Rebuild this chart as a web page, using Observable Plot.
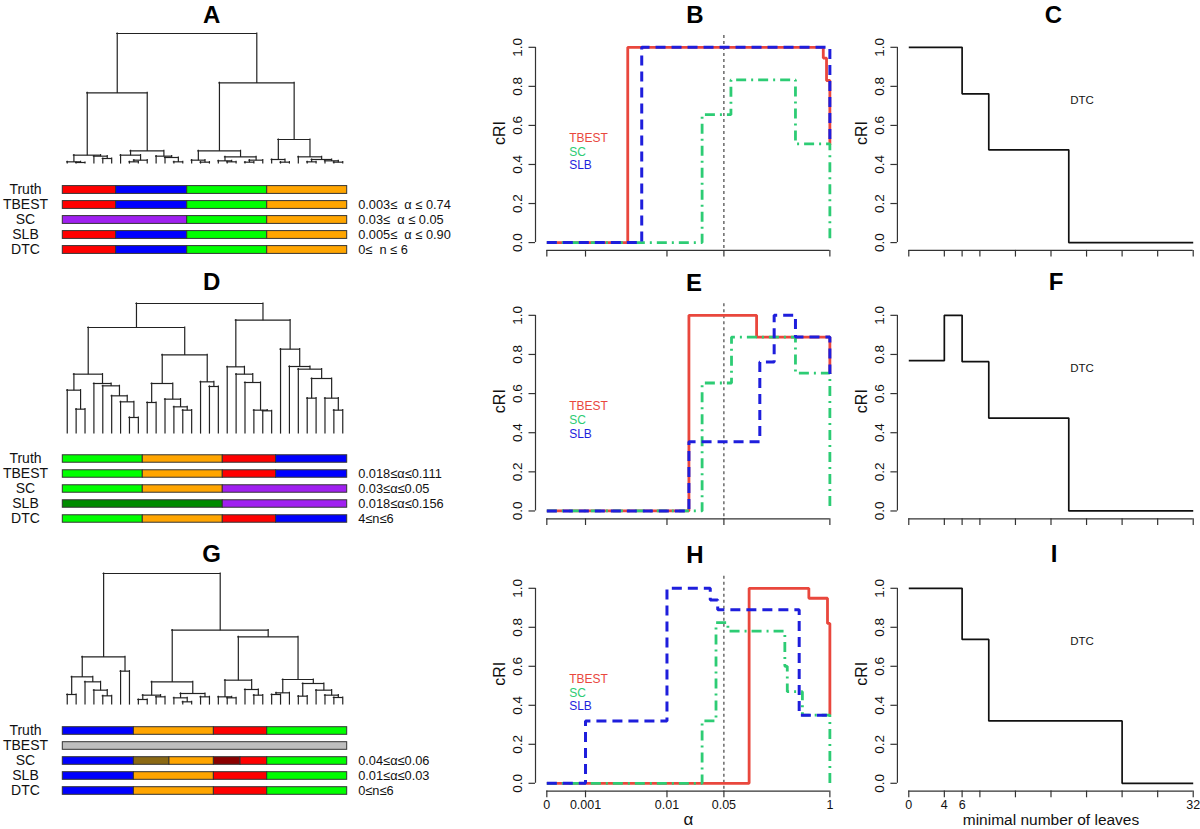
<!DOCTYPE html>
<html><head><meta charset="utf-8">
<script src="https://cdn.jsdelivr.net/npm/d3@7"></script>
<script src="https://cdn.jsdelivr.net/npm/@observablehq/plot@0.6"></script>
<style>
html,body{margin:0;padding:0;background:#fff;overflow:hidden;}
#fig{position:relative;width:1200px;height:829px;overflow:hidden;background:#fff;font-family:"Liberation Sans",Arial,Helvetica,sans-serif;}
</style></head><body><div id="fig"></div>
<script>
// ---------------- DATA ----------------
// dendrograms: internal node = [height, left, right]; leaf = 0
const treeA = [390,
  [212,
    [25, [5, 0, [3, 0, 0]], [22, 0, [15, 0, 0]]],
    [38, [25, 0, [10, [5, 0, 0], 0]], [22, 0, [18, 0, [5, 0, 0]]]]],
  [242,
    [38, [10, 0, [4, 0, 0]], [20, [8, 0, [5, 0, 0]], [10, [4, 0, 0], 0]]],
    [72, [12, 0, [4, 0, 0]], [20, 0, [12, [5, 0, 0], [8, 0, [4, 0, 0]]]]]]];
const treeD = [390,
  [318,
    [178, [130, 0, [73, 0, 0]], [150, 0, [143, 0, [113, 0, [95, 0, [48, 0, 0]]]]]],
    [236, [150, [93, 0, 0], [103, 0, [80, 0, [70, 0, 0]]]], [155, 0, [141, 0, 0]]]],
  [340,
    [200, 0, [178, 0, [153, 0, [70, 0, [68, 0, 0]]]]],
    [253, 0, [201, 0, [193, 0, [165, [106, 0, 0], [106, 0, [70, 0, 0]]]]]]]];
const treeG = [393,
  [143, [83, [30, 0, 0], [68, 0, [43, 0, [26, 0, 0]]]], [100, 0, 0]],
  [223,
    [68, [28, [15, 0, 0], [23, 0, 0]], [33, [20, 0, [8, 0, 0]], [23, 0, 0]]],
    [203,
      [73, [23, 0, [20, 0, 0]], [45, 0, [28, 0, 0]]],
      [75, [35, [30, 0, 0], 0], [63, [25, 0, 0], [43, 0, [28, 0, [21, 0, 0]]]]]]]];

const rowNames = ["Truth", "TBEST", "SC", "SLB", "DTC"];
const barColors = {red: "#FF0000", blue: "#0000FF", green: "#00FF00", orange: "#FFA500",
  purple: "#A020F0", darkgreen: "#008B00", gray: "#BEBEBE", olive: "#8B6914", darkred: "#8B0000"};
const partsA = [
  [["red", 6], ["blue", 8], ["green", 9], ["orange", 9]],
  [["red", 6], ["blue", 8], ["green", 9], ["orange", 9]],
  [["purple", 14], ["green", 9], ["orange", 9]],
  [["red", 6], ["blue", 8], ["green", 9], ["orange", 9]],
  [["red", 6], ["blue", 8], ["green", 9], ["orange", 9]]];
const rangesA = ["", "0.003\u2264  \u03B1 \u2264 0.74", "0.03\u2264  \u03B1 \u2264 0.05", "0.005\u2264  \u03B1 \u2264 0.90", "0\u2264  n \u2264 6"];
const partsD = [
  [["green", 9], ["orange", 9], ["red", 6], ["blue", 8]],
  [["green", 9], ["orange", 9], ["red", 6], ["blue", 8]],
  [["green", 9], ["orange", 9], ["purple", 14]],
  [["darkgreen", 18], ["purple", 14]],
  [["green", 9], ["orange", 9], ["red", 6], ["blue", 8]]];
const rangesD = ["", "0.018\u2264\u03B1\u22640.111", "0.03\u2264\u03B1\u22640.05", "0.018\u2264\u03B1\u22640.156", "4\u2264n\u22646"];
const partsG = [
  [["blue", 8], ["orange", 9], ["red", 6], ["green", 9]],
  [["gray", 32]],
  [["blue", 8], ["olive", 4], ["orange", 5], ["darkred", 3], ["red", 3], ["green", 9]],
  [["blue", 8], ["orange", 9], ["red", 6], ["green", 9]],
  [["blue", 8], ["orange", 9], ["red", 6], ["green", 9]]];
const rangesG = ["", "", "0.04\u2264\u03B1\u22640.06", "0.01\u2264\u03B1\u22640.03", "0\u2264n\u22646"];

// step curves: [alpha, cRI] (value holds from alpha onward)
const B_TBEST = [[0, 0], [0.0033, 1], [0.83, 0.945], [0.91, 0.83], [1, 0.83], [1, 0.5]];
const B_SC    = [[0, 0], [0.027, 0.655], [0.061, 0.833], [0.378, 0.505], [1, 0.505], [1, 0]];
const B_SLB   = [[0, 0], [0.0049, 1], [1, 1], [1, 0.5]];
const E_TBEST = [[0, 0], [0.0186, 1], [0.126, 0.889], [1, 0.889], [1, 0.70]];
const E_SC    = [[0, 0], [0.027, 0.654], [0.062, 0.889], [0.378, 0.705], [1, 0.705], [1, 0]];
const E_SLB   = [[0, 0], [0.0186, 0.354], [0.138, 0.761], [0.207, 1], [0.378, 0.889], [1, 0.889], [1, 0.70]];
const H_TBEST = [[0, 0], [0.102, 1], [0.552, 0.949], [0.935, 0.82], [1, 0.82], [1, 0.35]];
const H_SC    = [[0, 0], [0.027, 0.32], [0.040, 0.824], [0.056, 0.78], [0.28, 0.6], [0.30, 0.47], [0.46, 0.35], [1, 0.35], [1, 0]];
const H_SLB   = [[0, 0], [0.001, 0.32], [0.01, 1], [0.034, 0.94], [0.042, 0.89], [0.42, 0.349], [1, 0.349]];
// DTC: [minimal number of leaves, cRI]
const C_DTC = [[0, 1], [6, 0.762], [9, 0.475], [18, 0], [32, 0]];
const F_DTC = [[0, 0.768], [4, 1], [6, 0.763], [9, 0.475], [18, 0], [32, 0]];
const I_DTC = [[0, 1], [6, 0.738], [9, 0.32], [24, 0], [32, 0]];

const alphaTicks = [0, 0.001, 0.01, 0.05, 1];
const alphaTickLabels = ["0", "0.001", "0.01", "0.05", "1"];
const leavesTicks = [0, 4, 6, 8, 12, 16, 20, 24, 28, 32];
const leavesTickLabels = ["0", "4", "6", "", "", "", "", "", "", "32"];
const cRITicks = [0, 0.2, 0.4, 0.6, 0.8, 1];
const methodNames = ["TBEST", "SC", "SLB"];
const methodColors = ["#E9473D", "#2DCC74", "#1E1EDC"];
const legendAlpha = 0.00063;
const legendY = [0.534, 0.462, 0.395];

// ---------------- DRAWING ----------------
const FONT = '"Liberation Sans", Arial, Helvetica, sans-serif';
const AX = "#333";
const TX = "#111";
const fig = document.getElementById("fig");
function place(svg, left, top) {
  svg.style.position = "absolute";
  svg.style.left = left + "px";
  svg.style.top = top + "px";
  svg.style.maxWidth = "none";
  svg.style.background = "transparent";
  svg.style.overflow = "visible";
  fig.appendChild(svg);
}

function dendroSegments(tree) {
  let i = 0; const H = [], V = [];
  function walk(n) {
    if (!Array.isArray(n)) return {x: i++, h: 0};
    const [h, a, b] = n;
    const L = walk(a), R = walk(b);
    H.push({x1: L.x, x2: R.x, h});
    V.push({x: L.x, h1: L.h, h2: h}, {x: R.x, h1: R.h, h2: h});
    return {x: (L.x + R.x) / 2, h};
  }
  walk(tree);
  return {H, V};
}

const BAR_L = 62.3, BAR_R = 346.7;
function dendroPlot(tree, baseline) {
  const {H, V} = dendroSegments(tree);
  const svg = Plot.plot({
    width: 400, height: 140, marginLeft: BAR_L, marginRight: 400 - BAR_R, marginTop: 5, marginBottom: 5,
    x: {domain: [-0.5, 31.5], axis: null},
    y: {domain: [0, 390], axis: null},
    marks: [
      Plot.ruleX(V, {x: "x", y1: "h1", y2: "h2", stroke: "#222", strokeWidth: 1.2, strokeLinecap: "square"}),
      Plot.ruleY(H, {y: "h", x1: "x1", x2: "x2", stroke: "#222", strokeWidth: 1.2, strokeLinecap: "square"})
    ]
  });
  place(svg, 0, baseline - 135);
}

function barsPlot(parts, ranges, firstCenter, step) {
  const segs = [];
  parts.forEach((row, r) => {
    let s = 0;
    row.forEach(([c, n]) => { segs.push({row: rowNames[r], x1: s - 0.5, x2: s + n - 0.5, fill: barColors[c]}); s += n; });
  });
  const W = 500;
  const svg = Plot.plot({
    width: W, height: step * 5 + 10, marginTop: 5, marginBottom: 5, marginLeft: BAR_L, marginRight: W - BAR_R,
    x: {domain: [-0.5, 31.5], axis: null},
    y: {type: "band", domain: rowNames, padding: 0, axis: null},
    style: {fontFamily: FONT},
    marks: [
      Plot.barX(segs, {x1: "x1", x2: "x2", y: "row", fill: "fill", stroke: "#333", strokeWidth: 1,
        insetTop: (step - 8.3) / 2, insetBottom: (step - 8.3) / 2, insetLeft: 0, insetRight: 0}),
      Plot.text(rowNames, {y: d => d, text: d => d, frameAnchor: "left", dx: 25 - BAR_L, textAnchor: "middle", fontSize: 14, fill: TX}),
      Plot.text(rowNames.map((r, i) => ({r, t: ranges[i]})), {y: "r", text: "t", frameAnchor: "right", dx: 11, textAnchor: "start", fontSize: 12.8, fill: TX})
    ]
  });
  place(svg, 0, firstCenter - step / 2 - 5);
}

const ALPHA_ZERO = -3.475;
const alphaPos = a => a === 0 ? ALPHA_ZERO : Math.log10(a);
const idPos = v => v;

function stepPanel(cfg) {
  const {svgLeft, svgWidth, fl, fr, ft, fb, xf, ticks, tickLabels, showLabels, xTitle, series, extra} = cfg;
  const lo = xf(ticks[0]), hi = xf(ticks[ticks.length - 1]);
  const pad = 0.04 * (hi - lo);
  const x0 = lo - pad, x1 = hi + pad;
  const svgTop = ft - 14, svgHeight = (fb + 46) - svgTop;
  const labelMap = new Map(ticks.map((t, i) => [xf(t), tickLabels[i]]));
  const marks = [
    Plot.ruleX([x0], {y1: 0, y2: 1, stroke: AX, strokeWidth: 1.2}),
    Plot.ruleY([-0.04], {x1: lo, x2: hi, stroke: AX, strokeWidth: 1.2}),
    Plot.axisY({ticks: cRITicks, tickSize: 6.5, tickFormat: () => "", stroke: AX, strokeWidth: 1.2, label: null}),
    Plot.text(cRITicks, {x: x0, y: d => d, text: d => d.toFixed(1), rotate: -90, dx: -18, fontSize: 13.5, fill: TX}),
    Plot.axisX({ticks: ticks.map(xf), tickSize: 6.7, tickPadding: 2.5, stroke: AX, strokeWidth: 1.2, label: null,
      tickFormat: t => showLabels ? labelMap.get(t) : "", fontSize: 12.5, fill: TX}),
    Plot.text(["cRI"], {frameAnchor: "left", dx: -36, rotate: -90, text: d => d, fontSize: 16, fill: TX})
  ];
  if (xTitle) marks.push(Plot.text([xTitle], {frameAnchor: "bottom", dy: 34, text: d => d, fontSize: xTitle === "\u03B1" ? 17 : 15.5, fill: TX}));
  marks.push(...extra);
  series.forEach(s => marks.push(Plot.line(s.data, {x: d => xf(d[0]), y: d => d[1], curve: "step-after",
    stroke: s.color, strokeWidth: s.width, strokeDasharray: s.dash, strokeLinejoin: "miter", strokeLinecap: "butt"})));
  const svg = Plot.plot({
    width: svgWidth, height: svgHeight,
    marginLeft: fl - svgLeft, marginRight: svgLeft + svgWidth - fr, marginTop: ft - svgTop, marginBottom: svgTop + svgHeight - fb,
    x: {domain: [x0, x1]},
    y: {domain: [-0.04, 1.04]},
    style: {fontFamily: FONT},
    marks
  });
  place(svg, svgLeft, svgTop);
}

function alphaPanel(ft, fb, tb, sc, slb, showLabels) {
  stepPanel({
    svgLeft: 460, svgWidth: 390, fl: 535, fr: 840.7, ft, fb, xf: alphaPos,
    ticks: alphaTicks, tickLabels: alphaTickLabels, showLabels, xTitle: showLabels ? "\u03B1" : null,
    extra: [
      Plot.ruleX([alphaPos(0.05)], {y1: -0.03, y2: 1.07, stroke: "#333", strokeWidth: 1.1, strokeDasharray: "3,3"}),
      Plot.text(methodNames.map((n, i) => ({n, c: methodColors[i], y: legendY[i]})),
        {x: alphaPos(legendAlpha), y: "y", text: "n", fill: "c", textAnchor: "start", fontSize: 12})
    ],
    series: [
      {data: tb, color: methodColors[0], width: 2.8, dash: null},
      {data: sc, color: methodColors[1], width: 2.8, dash: "10,5,2,5"},
      {data: slb, color: methodColors[2], width: 3, dash: "10,6"}
    ]
  });
}

function leavesPanel(ft, fb, dtc, showLabels) {
  stepPanel({
    svgLeft: 840, svgWidth: 370, fl: 896.9, fr: 1204.1, ft, fb, xf: idPos,
    ticks: leavesTicks, tickLabels: leavesTickLabels, showLabels, xTitle: showLabels ? "minimal number of leaves" : null,
    extra: [Plot.text(["DTC"], {x: 19.5, y: 0.73, text: d => d, fontSize: 11.5, fill: TX})],
    series: [{data: dtc, color: "#111", width: 1.7, dash: null}]
  });
}

// Left column
dendroPlot(treeA, 163.3);
barsPlot(partsA, rangesA, 189, 15.5);
dendroPlot(treeD, 432.7);
barsPlot(partsD, rangesD, 457.3, 15.85);
dendroPlot(treeG, 704.3);
barsPlot(partsG, rangesG, 729, 15.7);

// Middle column
alphaPanel(38.9, 249.8, B_TBEST, B_SC, B_SLB, false);
alphaPanel(307.2, 518.5, E_TBEST, E_SC, E_SLB, false);
alphaPanel(579.5, 790.1, H_TBEST, H_SC, H_SLB, true);

// Right column
leavesPanel(38.9, 249.8, C_DTC, false);
leavesPanel(307.2, 518.5, F_DTC, false);
leavesPanel(579.5, 790.1, I_DTC, true);

// Panel letters
const panelLetters = ["A", "B", "C", "D", "E", "F", "G", "H", "I"];
const letterX = [211.7, 695, 1053.3, 211.7, 694, 1056, 211.7, 695, 1054];
const letterBase = [23.3, 23.3, 23.3, 290, 291, 290, 561.7, 562.5, 561.7];
const over = d3.create("svg").attr("width", 1200).attr("height", 829)
  .style("position", "absolute").style("left", "0px").style("top", "0px").style("pointer-events", "none");
over.selectAll("text").data(panelLetters).join("text")
  .attr("x", (d, i) => letterX[i]).attr("y", (d, i) => letterBase[i])
  .attr("text-anchor", "middle").attr("font-family", FONT).attr("font-weight", "bold")
  .attr("font-size", 24).attr("fill", "#000").text(d => d);
fig.appendChild(over.node());
</script></body></html>
